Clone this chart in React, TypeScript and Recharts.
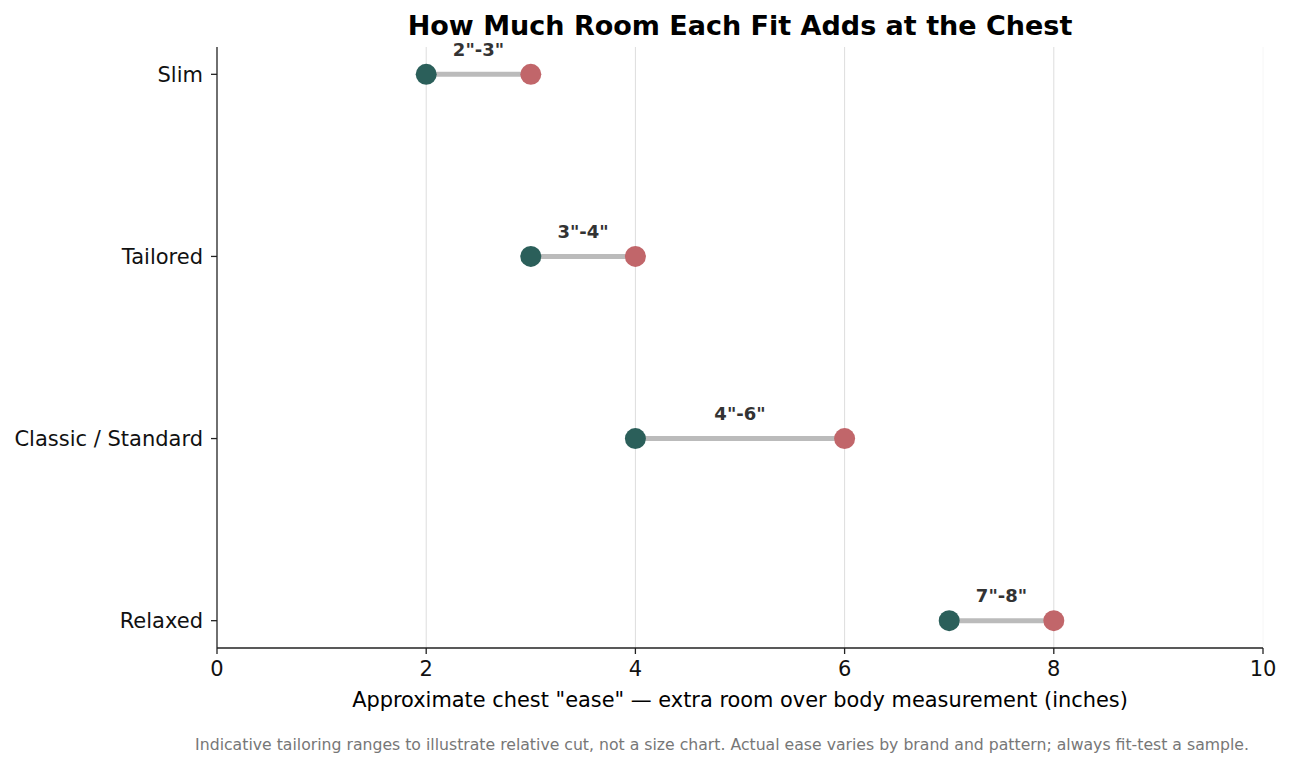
import React from 'react';
import {
  ScatterChart,
  Scatter,
  XAxis,
  YAxis,
  CartesianGrid,
  ReferenceLine,
} from 'recharts';

const categories = ['Slim', 'Tailored', 'Classic / Standard', 'Relaxed'];
const lowEase = [2, 3, 4, 7];
const highEase = [3, 4, 6, 8];
const rangeLabels = ['2"-3"', '3"-4"', '4"-6"', '7"-8"'];
const xTicks = [0, 2, 4, 6, 8, 10];

const FONT = '"DejaVu Sans", Verdana, sans-serif';
const W = 1291;
const H = 767;
const PLOT_LEFT = 217;
const PLOT_RIGHT = 1263;
const PLOT_TOP = 47;
const PLOT_BOTTOM = 648;

const lowData = categories.map((c, i) => ({ x: lowEase[i], y: i, name: c }));
const highData = categories.map((c, i) => ({ x: highEase[i], y: i, name: c }));
const midData = categories.map((c, i) => ({
  x: (lowEase[i] + highEase[i]) / 2,
  y: i,
  label: rangeLabels[i],
}));
const segments = categories.map((c, i) => [
  { x: lowEase[i], y: i },
  { x: highEase[i], y: i },
]);

const Dot = (color: string) => (p: any) =>
  <circle cx={p.cx} cy={p.cy} r={10.5} fill={color} />;

const Nothing = () => <g />;

const LabelShape = (p: any) => (
  <text
    x={p.cx}
    y={p.cy - 25}
    textAnchor="middle"
    dominantBaseline="central"
    fontFamily={FONT}
    fontWeight="bold"
    fontSize={18}
    fill="#333333"
  >
    {p.payload.label}
  </text>
);

export default function App() {
  return (
    <div style={{ position: 'absolute', left: 0, top: 0, width: W, height: H, background: '#fff' }}>
      <ScatterChart
        width={W}
        height={H}
        margin={{ top: PLOT_TOP, right: W - PLOT_RIGHT, left: 0, bottom: 0 }}
      >
        <CartesianGrid
          horizontal={false}
          verticalValues={[2, 4, 6, 8]}
          stroke="#dddddd"
          strokeWidth={1}
        />
        <ReferenceLine x={10} stroke="#f6f6f6" strokeWidth={1} />
        <XAxis
          type="number"
          dataKey="x"
          domain={[0, 10]}
          ticks={xTicks}
          height={H - PLOT_BOTTOM}
          tickSize={6}
          tickMargin={7}
          stroke="#222"
          strokeWidth={1.3}
          tick={{ fill: '#111', fontSize: 21, fontFamily: FONT }}
        />
        <YAxis
          type="number"
          dataKey="y"
          domain={[-0.15, 3.15]}
          reversed
          ticks={[0, 1, 2, 3]}
          tickFormatter={(v: number) => categories[v] ?? ''}
          width={PLOT_LEFT}
          tickSize={6}
          tickMargin={8}
          stroke="#222"
          strokeWidth={1.3}
          tick={{ fill: '#111', fontSize: 21, fontFamily: FONT }}
        />
        {segments.map((seg, i) => (
          <Scatter
            key={'seg' + i}
            data={seg}
            line={{ stroke: '#bbbbbb', strokeWidth: 5 }}
            shape={Nothing}
            isAnimationActive={false}
          />
        ))}
        <Scatter data={lowData} shape={Dot('#2b5f5a')} isAnimationActive={false} />
        <Scatter data={highData} shape={Dot('#c1666a')} isAnimationActive={false} />
        <Scatter data={midData} shape={LabelShape} isAnimationActive={false} />
      </ScatterChart>
      <svg
        width={W}
        height={H}
        style={{ position: 'absolute', left: 0, top: 0, pointerEvents: 'none' }}
      >
        <text
          x={(PLOT_LEFT + PLOT_RIGHT) / 2}
          y={25}
          textAnchor="middle"
          dominantBaseline="central"
          fontFamily={FONT}
          fontWeight="bold"
          fontSize={27}
          fill="#000"
        >
          How Much Room Each Fit Adds at the Chest
        </text>
        <text
          x={(PLOT_LEFT + PLOT_RIGHT) / 2}
          y={700}
          textAnchor="middle"
          dominantBaseline="central"
          fontFamily={FONT}
          fontSize={20.9}
          fill="#000"
        >
          Approximate chest "ease" — extra room over body measurement (inches)
        </text>
        <text
          x={1249}
          y={744}
          textAnchor="end"
          dominantBaseline="central"
          fontFamily={FONT}
          fontSize={15.7}
          fill="#777777"
        >
          Indicative tailoring ranges to illustrate relative cut, not a size chart. Actual ease varies by brand and pattern; always fit-test a sample.
        </text>
      </svg>
    </div>
  );
}
